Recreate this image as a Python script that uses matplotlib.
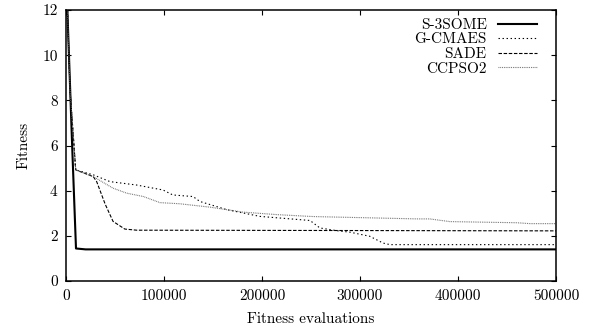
import matplotlib
matplotlib.use("Agg")
import matplotlib.pyplot as plt

plt.rcParams["font.family"] = ["cmr10", "DejaVu Serif"]
plt.rcParams["axes.formatter.use_mathtext"] = True
plt.rcParams["mathtext.fontset"] = "cm"
plt.rcParams["lines.scale_dashes"] = False

# Convergence curves: fitness vs. number of fitness evaluations
s3some_x = [0, 6300, 10200, 20000, 500000]
s3some_y = [13.7, 5.97, 1.44, 1.40, 1.40]

gcmaes_x = [0, 1500, 4100, 9900, 27900, 44900, 72000, 99000, 109000, 129600,
            136700, 164000, 198000, 249000, 259000, 276000, 290000, 310000,
            323500, 330600, 500000]
gcmaes_y = [14.0, 12.0, 8.46, 4.92, 4.70, 4.40, 4.25, 4.03, 3.81, 3.74,
            3.52, 3.16, 2.86, 2.68, 2.35, 2.23, 2.16, 1.98,
            1.68, 1.61, 1.61]

sade_x = [0, 1500, 4100, 9900, 27900, 31300, 40000, 48000, 60000, 72000, 500000]
sade_y = [14.0, 12.0, 8.46, 4.92, 4.62, 4.40, 3.40, 2.64, 2.30, 2.25, 2.22]

ccpso2_x = [0, 1500, 4100, 9900, 27900, 48000, 61900, 79000, 95900, 116000,
            146900, 180600, 215000, 249000, 255800, 357900, 371000, 391800,
            460000, 473500, 500000]
ccpso2_y = [14.0, 12.0, 8.46, 4.92, 4.62, 4.11, 3.89, 3.74, 3.47, 3.42,
            3.27, 3.05, 2.94, 2.86, 2.85, 2.75, 2.75, 2.63,
            2.58, 2.54, 2.54]

x_ticks = [0, 100000, 200000, 300000, 400000, 500000]
y_ticks = [0, 2, 4, 6, 8, 10, 12]

fig = plt.figure(figsize=(6.10, 3.32), dpi=100)
ax = fig.add_axes([66 / 610, 1 - 281 / 332, 490 / 610, 271 / 332])

ax.plot(s3some_x, s3some_y, color="black", lw=1.5, label="S-3SOME")
ax.plot(gcmaes_x, gcmaes_y, color="black", lw=0.8, dashes=(1.0, 1.9), label="G-CMAES")
ax.plot(sade_x, sade_y, color="black", lw=0.8, dashes=(2.5, 1.2), label="SADE")
ax.plot(ccpso2_x, ccpso2_y, color="#666666", lw=0.8, dashes=(0.6, 0.7), label="CCPSO2")

ax.set_xlim(0, 500000)
ax.set_ylim(0, 12)
ax.set_xticks(x_ticks)
ax.set_yticks(y_ticks)
ax.set_xticklabels([str(v) for v in x_ticks])
ax.set_yticklabels([str(v) for v in y_ticks])

for side in ax.spines.values():
    side.set_linewidth(1.1)
ax.tick_params(direction="in", length=3.5, width=0.8, top=True, right=True,
               labelsize=11, pad=6)

ax.set_xlabel("Fitness evaluations", fontsize=11, labelpad=7)
ax.set_ylabel("Fitness", fontsize=11, labelpad=8)

leg = ax.legend(loc="upper right", bbox_to_anchor=(0.962, 0.97), frameon=False,
                markerfirst=False, fontsize=11, handlelength=2.6,
                handletextpad=0.72, labelspacing=0.06, borderpad=0,
                borderaxespad=0)
for col in leg._legend_handle_box.get_children():
    col.align = "right"

fig.savefig("out.png", dpi=100)
